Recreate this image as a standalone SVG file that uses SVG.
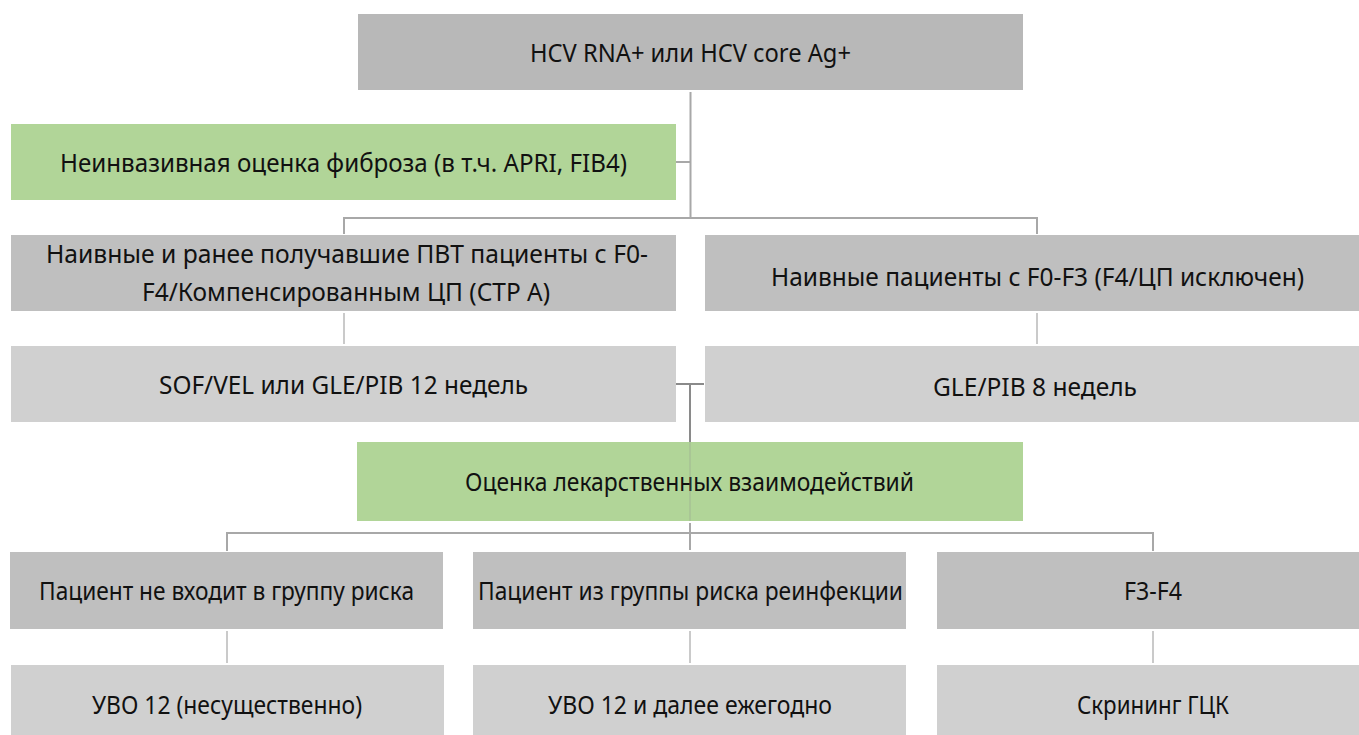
<svg xmlns="http://www.w3.org/2000/svg" width="1359" height="735" viewBox="0 0 1359 735">
<style>
.t{font-family:"Noto Sans","Liberation Sans",sans-serif;font-size:26px;fill:#111;text-anchor:middle}
.dk{fill:#b8b8b8}
.md{fill:#bfbfbf}
.lt{fill:#d0d0d0}
.gr{fill:#b1d598}
.c1{fill:none;stroke:#a8a8a8;stroke-width:2}
.c2{fill:none;stroke:#cacaca;stroke-width:2}
.c3{fill:none;stroke:#8a8a8a;stroke-width:2}
</style>
<rect width="1359" height="735" fill="#fff"/>
<g id="nodes">
<g id="n-top"><rect class="dk" x="358" y="14" width="665" height="76"/><text class="t" x="690.5" y="62" textLength="321" lengthAdjust="spacingAndGlyphs">HCV RNA+ или HCV core Ag+</text></g>
<g id="n-fib"><rect class="gr" x="11" y="124" width="665" height="76"/><text class="t" x="343.5" y="172" textLength="567" lengthAdjust="spacingAndGlyphs">Неинвазивная оценка фиброза (в т.ч. APRI, FIB4)</text></g>
<g id="n-naive-all"><rect class="md" x="11" y="235" width="665" height="76"/><text class="t" x="347" y="263" textLength="602" lengthAdjust="spacingAndGlyphs">Наивные и ранее получавшие ПВТ пациенты с F0-</text><text class="t" x="346" y="301" textLength="408" lengthAdjust="spacingAndGlyphs">F4/Компенсированным ЦП (СТР А)</text></g>
<g id="n-naive-f03"><rect class="md" x="705" y="235" width="665" height="76"/><text class="t" x="1037.5" y="286" textLength="533" lengthAdjust="spacingAndGlyphs">Наивные пациенты с F0-F3 (F4/ЦП исключен)</text></g>
<g id="n-sof"><rect class="lt" x="11" y="346" width="665" height="76"/><text class="t" x="343.5" y="394" textLength="369" lengthAdjust="spacingAndGlyphs">SOF/VEL или GLE/PIB 12 недель</text></g>
<g id="n-gle8"><rect class="lt" x="705" y="346" width="665" height="76"/><text class="t" x="1035" y="396" textLength="204" lengthAdjust="spacingAndGlyphs">GLE/PIB 8 недель</text></g>
<g id="n-ddi"><rect class="gr" x="357" y="442" width="666" height="79"/><text class="t" x="689.5" y="491" textLength="449" lengthAdjust="spacingAndGlyphs">Оценка лекарственных взаимодействий</text></g>
<g id="n-norisk"><rect class="md" x="10" y="552" width="433" height="77"/><text class="t" x="226.5" y="600" textLength="375" lengthAdjust="spacingAndGlyphs">Пациент не входит в группу риска</text></g>
<g id="n-risk"><rect class="md" x="473" y="552" width="433" height="77"/><text class="t" x="690.5" y="600" textLength="425" lengthAdjust="spacingAndGlyphs">Пациент из группы риска реинфекции</text></g>
<g id="n-f34"><rect class="md" x="937" y="552" width="433" height="77"/><text class="t" x="1153" y="600" textLength="58" lengthAdjust="spacingAndGlyphs">F3-F4</text></g>
<g id="n-svr1"><rect class="lt" x="11" y="665" width="433" height="77"/><text class="t" x="227" y="714" textLength="270" lengthAdjust="spacingAndGlyphs">УВО 12 (несущественно)</text></g>
<g id="n-svr2"><rect class="lt" x="473" y="665" width="433" height="77"/><text class="t" x="690" y="714" textLength="284" lengthAdjust="spacingAndGlyphs">УВО 12 и далее ежегодно</text></g>
<g id="n-hcc"><rect class="lt" x="937" y="665" width="433" height="77"/><text class="t" x="1153" y="714" textLength="152" lengthAdjust="spacingAndGlyphs">Скрининг ГЦК</text></g>
</g>
<g id="connectors">
<path class="c1" d="M690.5 92V218M676 162H690.5M344 234V218H1037V234"/>
<path class="c2" d="M344 313V344M1037 313V344"/>
<path class="c3" d="M676 384H704M690 384V442"/>
<path class="c3" d="M690 442V521" stroke-opacity="0.2"/>
<path class="c1" d="M690 523V550M227 551V533H1153V551"/>
<path class="c2" d="M227 631V663M690 631V663M1153 631V663"/>
</g>
</svg>
